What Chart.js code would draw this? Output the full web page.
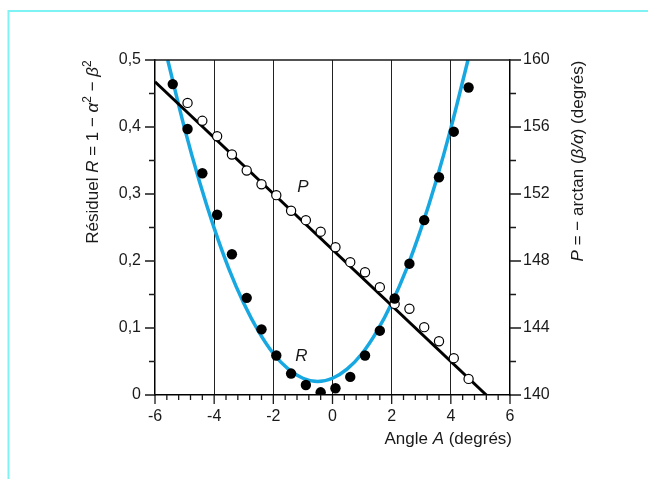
<!DOCTYPE html>
<html>
<head>
<meta charset="utf-8">
<script src="https://cdn.jsdelivr.net/npm/chart.js@4.4.1/dist/chart.umd.min.js"></script>
<style>
  html, body { margin: 0; padding: 0; background: #fff; }
  canvas { display: block; }
</style>
</head>
<body>
<canvas id="chart" width="648" height="479"></canvas>
<script>
// ── Data ─────────────────────────────────────────────────
// Measured residual R (filled dots), left axis
const rAngles = [-5.4, -4.9, -4.4, -3.9, -3.4, -2.9, -2.4, -1.9, -1.4, -0.9, -0.4,
                 0.1, 0.6, 1.1, 1.6, 2.1, 2.6, 3.1, 3.6, 4.1, 4.6];
const rValues = [0.464, 0.397, 0.331, 0.269, 0.210, 0.145, 0.098, 0.059, 0.032, 0.015, 0.004,
                 0.010, 0.027, 0.059, 0.096, 0.144, 0.196, 0.261, 0.325, 0.393, 0.459];

// Measured phase P (open circles), right axis
const pAngles = [-4.9, -4.4, -3.9, -3.4, -2.9, -2.4, -1.9, -1.4, -0.9, -0.4,
                 0.1, 0.6, 1.1, 1.6, 2.1, 2.6, 3.1, 3.6, 4.1, 4.6];
const pValues = [157.44, 156.37, 155.45, 154.36, 153.40, 152.58, 151.93, 151.00, 150.44, 149.75,
                 148.82, 147.93, 147.33, 146.44, 145.44, 145.15, 144.05, 143.21, 142.20, 140.96];

// Fitted parabola for R (blue curve)
const rFitAngles = [-5.57, -5.0, -4.5, -4.0, -3.5, -3.0, -2.5, -2.0, -1.5, -1.0, -0.5,
                    0.0, 0.5, 1.0, 1.5, 2.0, 2.5, 3.0, 3.5, 4.0, 4.58];
const rFitValues = [0.500, 0.398, 0.319, 0.249, 0.188, 0.137, 0.095, 0.062, 0.039, 0.025, 0.020,
                    0.025, 0.039, 0.062, 0.095, 0.137, 0.188, 0.249, 0.319, 0.398, 0.500];

// Fitted straight line for P (black)
const pFitAngles = [-6.0, 5.2];
const pFitValues = [158.7, 140.0];

// Axis ranges / ticks
const xRange = [-6, 6],   xStep = 2,   xMinorStep = 0.4;
const rRange = [0, 0.5],  rStep = 0.1, rMinorStep = 0.05;
const pRange = [140, 160], pStep = 4,  pMinorStep = 2;

// Curve labels (data coordinates)
const curveLabels = [
  { text: 'P', x: -1.0,  y: 152.4, axis: 'y2' },
  { text: 'R', x: -1.05, y: 0.058, axis: 'y' },
];

const FONT = "'Liberation Sans', Arial, Helvetica, sans-serif";
const BLUE = '#17a8e2';
const INK  = '#1a1a1a';

const pts = (xs, ys) => xs.map((x, i) => ({ x, y: ys[i] }));
const commaNum = v => (Math.abs(v) < 1e-9 ? '0' : v.toFixed(1).replace('.', ','));

// ── Rich text: runs of {t, it, sup} ──────────────────────
function drawRuns(ctx, runs, x, y, size, align) {
  const fontOf = r => `${r.it ? 'italic ' : ''}${r.sup ? Math.round(size * 0.72) : size}px ${FONT}`;
  let total = 0;
  runs.forEach(r => { ctx.font = fontOf(r); total += ctx.measureText(r.t).width; });
  let cx = align === 'right' ? x - total : align === 'center' ? x - total / 2 : x;
  ctx.textBaseline = 'alphabetic';
  ctx.textAlign = 'left';
  runs.forEach(r => {
    ctx.font = fontOf(r);
    ctx.fillText(r.t, cx, y - (r.sup ? size * 0.42 : 0));
    cx += ctx.measureText(r.t).width;
  });
}

function minorValues(min, max, step) {
  const out = [];
  const n = Math.round((max - min) / step);
  for (let i = 0; i <= n; i++) out.push(min + i * step);
  return out;
}

// ── Decoration: frame, ticks, top border, titles ─────────
const decor = {
  id: 'decor',
  beforeDraw(chart) {
    const c = chart.ctx;
    c.save();
    c.strokeStyle = '#7ff3f3';
    c.lineWidth = 2;
    c.beginPath();
    c.moveTo(8.5, 479); c.lineTo(8.5, 11); c.lineTo(648, 11);
    c.stroke();
    c.restore();
  },
  afterDraw(chart) {
    const c = chart.ctx;
    const { left, right, top, bottom } = chart.chartArea;
    const sx = chart.scales.x, sy = chart.scales.y, sp = chart.scales.y2;
    c.save();
    c.strokeStyle = INK;
    c.lineWidth = 1.3;
    c.beginPath();
    // top border
    c.moveTo(left, top); c.lineTo(right, top);
    // x ticks (below)
    minorValues(xRange[0], xRange[1], xMinorStep).forEach(v => {
      const px = sx.getPixelForValue(v);
      const major = Math.abs(v / xStep - Math.round(v / xStep)) < 1e-6;
      c.moveTo(px, bottom); c.lineTo(px, bottom + (major ? 9 : 5));
    });
    // left ticks
    minorValues(rRange[0], rRange[1], rMinorStep).forEach(v => {
      const py = sy.getPixelForValue(v);
      const major = Math.abs(v / rStep - Math.round(v / rStep)) < 1e-6;
      c.moveTo(left, py); c.lineTo(left - (major ? 10 : 6), py);
    });
    // right ticks
    minorValues(pRange[0], pRange[1], pMinorStep).forEach(v => {
      const py = sp.getPixelForValue(v);
      const major = Math.abs(v / pStep - Math.round(v / pStep)) < 1e-6;
      c.moveTo(right, py); c.lineTo(right + (major ? 11 : 6), py);
    });
    c.stroke();

    c.fillStyle = INK;
    // x title
    drawRuns(c, [{ t: 'Angle ' }, { t: 'A', it: true }, { t: ' (degrés)' }], 512, 444, 17, 'right');
    // left title
    c.save();
    c.translate(98, 152);
    c.rotate(-Math.PI / 2);
    drawRuns(c, [
      { t: 'Résiduel ' }, { t: 'R', it: true }, { t: ' = 1 − ' },
      { t: 'α', it: true }, { t: '2', sup: true }, { t: ' − ' },
      { t: 'β', it: true }, { t: '2', sup: true },
    ], 0, 0, 17, 'center');
    c.restore();
    // right title
    c.save();
    c.translate(583, 161);
    c.rotate(-Math.PI / 2);
    drawRuns(c, [
      { t: 'P', it: true }, { t: ' = − arctan (' }, { t: 'β/α', it: true }, { t: ') (degrés)' },
    ], 0, 0, 17, 'center');
    c.restore();

    // curve labels
    curveLabels.forEach(l => {
      const px = sx.getPixelForValue(l.x);
      const py = chart.scales[l.axis].getPixelForValue(l.y);
      c.font = `italic 17px ${FONT}`;
      c.textAlign = 'center';
      c.textBaseline = 'middle';
      c.fillText(l.text, px, py);
    });
    c.restore();
  }
};

new Chart(document.getElementById('chart'), {
  type: 'scatter',
  data: {
    datasets: [
      {
        type: 'line',
        label: 'R fit',
        data: pts(rFitAngles, rFitValues),
        yAxisID: 'y',
        borderColor: BLUE,
        borderWidth: 3.5,
        pointRadius: 0,
        cubicInterpolationMode: 'monotone',
        fill: false,
        order: 4,
      },
      {
        type: 'line',
        label: 'P fit',
        data: pts(pFitAngles, pFitValues),
        yAxisID: 'y2',
        borderColor: '#000',
        borderWidth: 3,
        pointRadius: 0,
        fill: false,
        order: 3,
      },
      {
        label: 'P',
        data: pts(pAngles, pValues),
        yAxisID: 'y2',
        pointRadius: 4.6,
        pointBackgroundColor: '#fff',
        pointBorderColor: '#000',
        pointBorderWidth: 1.2,
        order: 2,
      },
      {
        label: 'R',
        data: pts(rAngles, rValues),
        yAxisID: 'y',
        pointRadius: 5.2,
        pointBackgroundColor: '#000',
        pointBorderColor: '#000',
        pointBorderWidth: 0,
        order: 1,
      },
    ],
  },
  options: {
    responsive: false,
    animation: false,
    layout: { padding: { top: 60, left: 0, right: 0, bottom: 0 } },
    plugins: {
      legend: { display: false },
      tooltip: { enabled: false },
    },
    scales: {
      x: {
        type: 'linear',
        min: xRange[0], max: xRange[1],
        afterFit: s => { s.height = 84; },
        border: { display: true, color: '#000', width: 1.5 },
        grid: {
          drawTicks: false,
          color: ctx => (ctx.tick && (ctx.tick.value === xRange[0] || ctx.tick.value === xRange[1])) ? 'rgba(0,0,0,0)' : '#222',
          lineWidth: 1,
        },
        ticks: {
          stepSize: xStep,
          padding: 12,
          color: INK,
          font: { family: FONT, size: 16 },
          callback: v => String(v),
        },
      },
      y: {
        position: 'left',
        min: rRange[0], max: rRange[1],
        afterFit: s => { s.width = 155; },
        border: { display: true, color: '#000', width: 1.5 },
        grid: { display: false, drawTicks: false },
        ticks: {
          stepSize: rStep,
          padding: 14,
          color: INK,
          font: { family: FONT, size: 16 },
          callback: v => commaNum(v),
        },
      },
      y2: {
        position: 'right',
        min: pRange[0], max: pRange[1],
        afterFit: s => { s.width = 138; },
        border: { display: true, color: '#000', width: 1.5 },
        grid: { display: false, drawTicks: false },
        ticks: {
          stepSize: pStep,
          padding: 13,
          color: INK,
          font: { family: FONT, size: 16 },
        },
      },
    },
  },
  plugins: [decor],
});
</script>
</body>
</html>
